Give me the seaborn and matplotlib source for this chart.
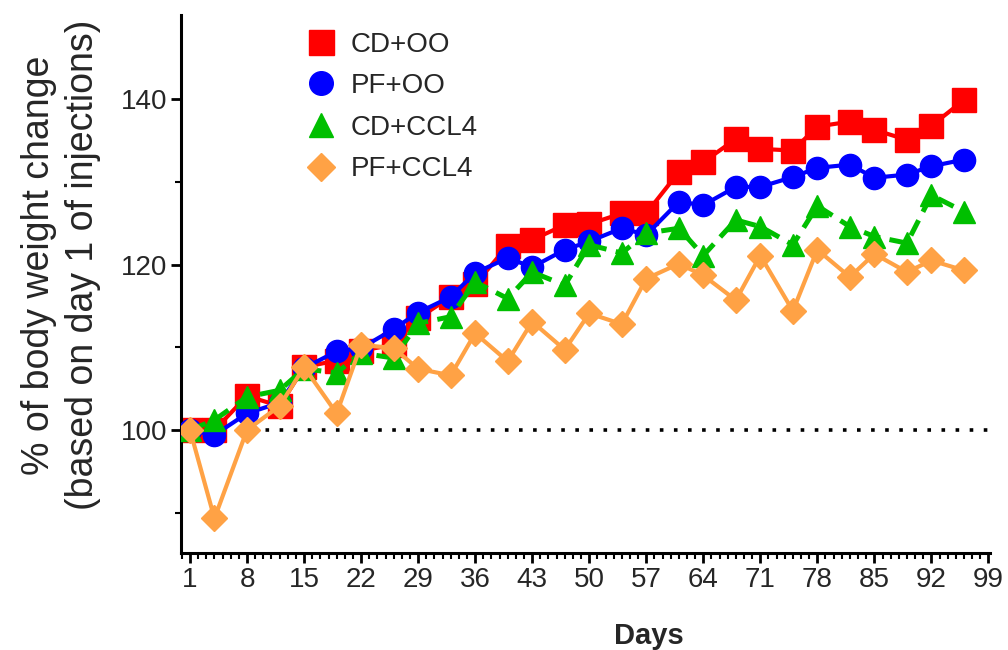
import matplotlib
matplotlib.use("Agg")
import matplotlib.pyplot as plt
import seaborn as sns
import pandas as pd
from matplotlib.lines import Line2D
from matplotlib.ticker import FixedLocator, MultipleLocator

# ---------------- data ----------------
days = [1, 4, 8, 12, 15, 19, 22, 26, 29, 33, 36, 40, 43, 47, 50, 54, 57, 61, 64,
        68, 71, 75, 78, 82, 85, 89, 92, 96]
cd_oo = [100, 100, 104.1, 102.9, 107.6, 108.4, 109.6, 110.3, 113.5, 116.1, 117.6,
         122.3, 123.0, 124.8, 124.9, 126.2, 126.2, 131.2, 132.4, 135.2, 134.0,
         133.8, 136.7, 137.3, 136.3, 135.1, 136.8, 139.9]
pf_oo = [100, 99.4, 102.0, 103.3, 107.5, 109.5, 109.9, 112.2, 114.2, 116.1, 119.0,
         120.8, 119.7, 121.8, 122.8, 124.4, 123.6, 127.6, 127.2, 129.4, 129.4,
         130.6, 131.7, 132.1, 130.5, 130.9, 131.9, 132.7]
cd_ccl4 = [100, 101.2, 104.0, 104.8, 107.4, 106.9, 109.3, 108.7, 112.9, 113.7,
           117.9, 115.9, 119.1, 117.5, 122.4, 121.4, 123.8, 124.4, 121.1, 125.4,
           124.6, 122.4, 127.1, 124.6, 123.4, 122.6, 128.4, 126.4]
pf_ccl4 = [100, 89.3, 100.0, 102.9, 107.6, 102.0, 110.3, 109.9, 107.4, 106.6,
           111.7, 108.3, 113.1, 109.7, 114.1, 112.8, 118.3, 120.1, 118.7, 115.7,
           121.1, 114.4, 121.8, 118.5, 121.3, 119.1, 120.5, 119.3]
series_names = ["CD+OO", "PF+OO", "CD+CCL4", "PF+CCL4"]
x_ticks = [1, 8, 15, 22, 29, 36, 43, 50, 57, 64, 71, 78, 85, 92, 99]
y_ticks = [100, 120, 140]
y_minor = [90, 110, 130]
baseline = 100

# ---------------- style ----------------
sns.set_style("ticks")
plt.rcParams["font.family"] = ["Liberation Sans", "DejaVu Sans"]

colors = ["#FF0000", "#0000FF", "#00BF00", "#FFA245"]
markers = ["s", "o", "^", "D"]
msizes = [17, 16, 16, 13.5]
lstyles = ["-", "-", (0, (3.4, 1.9)), "-"]
lwidths = [3.0, 3.0, 3.6, 3.0]

fig = plt.figure(figsize=(10.08, 6.5), dpi=100)
ax = fig.add_axes([0.1796, 0.149, 0.8026, 0.828])

ax.axhline(baseline, color="black", lw=2.6, linestyle=(0, (1, 2.9)), zorder=1)

all_series = [cd_oo, pf_oo, cd_ccl4, pf_ccl4]
for i, (name, vals) in enumerate(zip(series_names, all_series)):
    df = pd.DataFrame({"Days": days, "val": vals})
    sns.lineplot(data=df, x="Days", y="val", ax=ax, color=colors[i],
                 marker=markers[i], markersize=msizes[i],
                 markeredgecolor=colors[i], markeredgewidth=1,
                 linewidth=lwidths[i], linestyle=lstyles[i],
                 errorbar=None, zorder=2 + i)

ax.set_xlim(-0.1, 99.2)
ax.set_ylim(85.1, 150.2)

ax.xaxis.set_major_locator(FixedLocator(x_ticks))
ax.xaxis.set_minor_locator(MultipleLocator(1))
ax.yaxis.set_major_locator(FixedLocator(y_ticks))
ax.yaxis.set_minor_locator(FixedLocator(y_minor))
ax.set_xticklabels([str(t) for t in x_ticks])
ax.set_yticklabels([str(t) for t in y_ticks])

for side in ["top", "right"]:
    ax.spines[side].set_visible(False)
for side in ["left", "bottom"]:
    ax.spines[side].set_linewidth(2.2)
    ax.spines[side].set_color("black")

ax.tick_params(axis="both", which="major", direction="out", length=7, width=2.0,
               labelsize=20, color="black", pad=3)
ax.tick_params(axis="both", which="minor", direction="out", length=4, width=1.5,
               color="black")

ax.set_xlabel("Days", fontsize=21, fontweight="bold")
ax.xaxis.set_label_coords(0.578, -0.128)
ax.set_ylabel("% of body weight change\n(based on day 1 of injections)",
              fontsize=27, linespacing=1.3)
ax.yaxis.set_label_coords(-0.099, 0.535)

handles = [Line2D([], [], linestyle="none", marker=markers[i], color=colors[i],
                  markersize=msizes[i] + 1, markeredgecolor=colors[i])
           for i in range(4)]
leg = ax.legend(handles, series_names, loc="upper left",
                bbox_to_anchor=(0.132, 1.0), frameon=False, fontsize=20,
                handletextpad=0.45, labelspacing=0.56, handlelength=1.2,
                borderaxespad=0.2)

fig.savefig("out.png", dpi=100)
